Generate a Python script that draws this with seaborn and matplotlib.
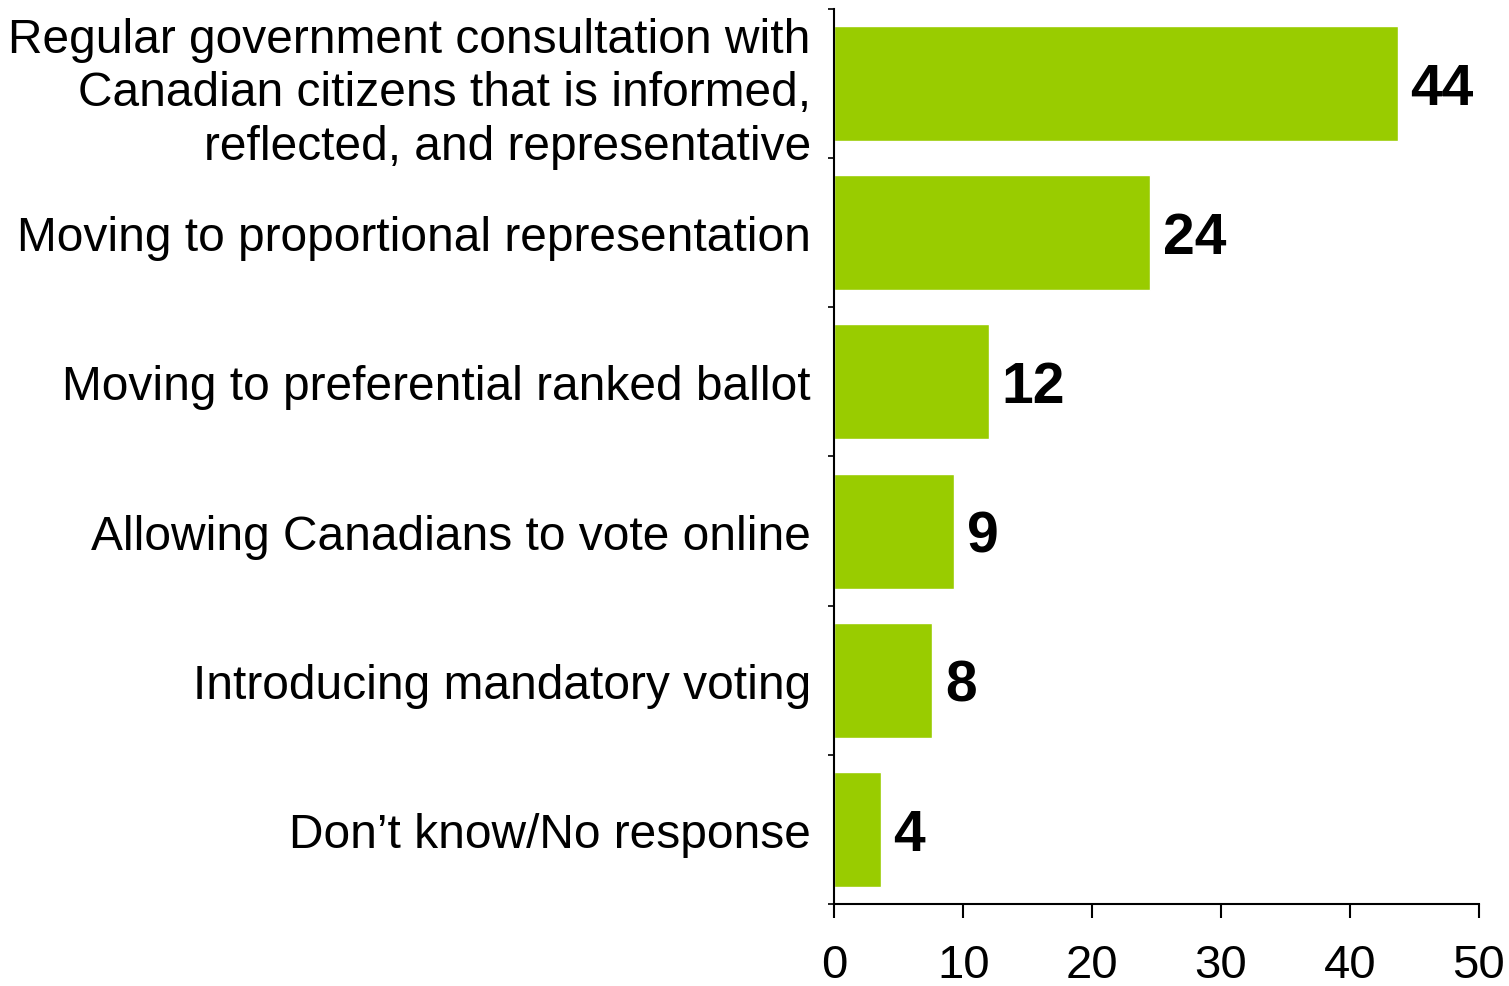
import numpy as np
import pandas as pd
import matplotlib
matplotlib.use("Agg")
import matplotlib.pyplot as plt
import seaborn as sns

# survey answers, top to bottom
categories = [
    "Regular government consultation with\nCanadian citizens that is informed,\nreflected, and representative",
    "Moving to proportional representation",
    "Moving to preferential ranked ballot",
    "Allowing Canadians to vote online",
    "Introducing mandatory voting",
    "Don\u2019t know/No response",
]
values = [43.7, 24.5, 12.0, 9.3, 7.6, 3.6]
value_labels = ["44", "24", "12", "9", "8", "4"]
x_ticks = [0, 10, 20, 30, 40, 50]

df = pd.DataFrame({"answer": categories, "pct": values})

sns.set_style("white")
plt.rcParams["font.family"] = ["Liberation Sans", "DejaVu Sans"]
plt.rcParams["text.color"] = "black"
plt.rcParams["xtick.color"] = "black"
plt.rcParams["ytick.color"] = "black"

fig = plt.figure(figsize=(15.09, 9.87), dpi=100)
ax = fig.add_axes([0.553, 0.083, 0.427, 0.907])

sns.barplot(data=df, x="pct", y="answer", orient="h", color="#99CC00",
            saturation=1, width=0.77, ax=ax)

# bold value labels just past the bar ends
for i, (v, lab) in enumerate(zip(values, value_labels)):
    ax.annotate(lab, (v, i), xytext=(9, -4), textcoords="offset points",
                va="center", ha="left", fontsize=41, fontweight="bold",
                color="black")

ax.set_xlim(0, 50)
ax.set_ylim(5.5, -0.5)
ax.set_xticks(x_ticks)
ax.set_xticklabels([str(t) for t in x_ticks], fontsize=34)
ax.tick_params(axis="y", labelsize=34.5, length=0, pad=17, labelcolor="black")
ax.tick_params(axis="x", direction="out", length=10, width=1.5, color="black",
               bottom=True, pad=18, labelcolor="black")
ax.set_yticks(np.arange(-0.5, 6, 1), minor=True)
ax.tick_params(axis="y", which="minor", direction="out", length=4, width=1.2,
               color="black", left=True)
for t in ax.get_yticklabels():
    t.set_linespacing(1.25)
ax.set_xlabel("")
ax.set_ylabel("")

sns.despine(ax=ax)
for s in ["left", "bottom"]:
    ax.spines[s].set_color("black")
    ax.spines[s].set_linewidth(1.5)

fig.savefig("out.png", dpi=100)
